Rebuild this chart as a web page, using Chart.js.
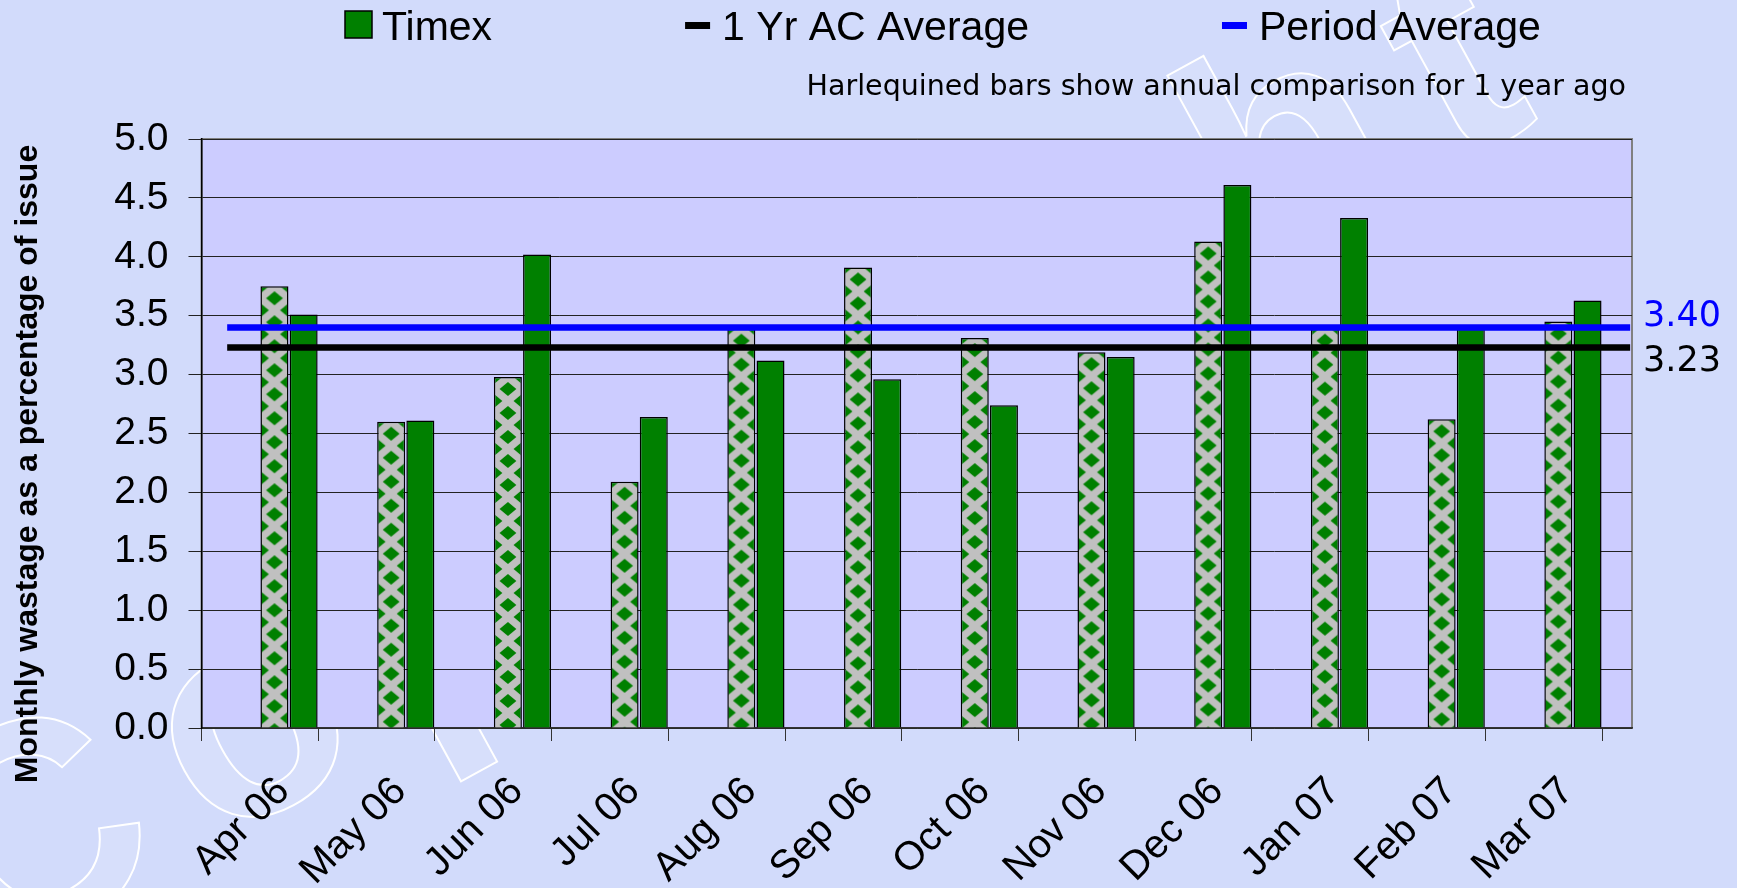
<!DOCTYPE html>
<html>
<head>
<meta charset="utf-8">
<title>Timex monthly wastage</title>
<script src="https://cdn.jsdelivr.net/npm/chart.js@4.4.1/dist/chart.umd.min.js"></script>
<style>
  html, body { margin: 0; padding: 0; background: #d2dbfb; }
  #chart { display: block; }
</style>
</head>
<body>
<canvas id="chart" width="1737" height="888"></canvas>
<script>
// Values
const months = ["Apr 06", "May 06", "Jun 06", "Jul 06", "Aug 06", "Sep 06",
                "Oct 06", "Nov 06", "Dec 06", "Jan 07", "Feb 07", "Mar 07"];
const timex = [3.51, 2.61, 4.02, 2.64, 3.12, 2.96, 2.74, 3.15, 4.61, 4.33, 3.40, 3.63];
// harlequined bars: same month one year earlier
const yearAgo = [3.75, 2.60, 2.98, 2.09, 3.39, 3.91, 3.31, 3.19, 4.13, 3.39, 2.62, 3.45];
const periodAverage = 3.40;
const yearAgoAverage = 3.23;
const yRange = [0, 5];
const yStep = 0.5;

const SANS = "'Liberation Sans', Arial, sans-serif";
const VERDANA = "'DejaVu Sans', Verdana, sans-serif";
const GREEN = "#008000";
const PAGE_BG = "#d2dbfb";

// plot runs a little past the last month, like the original sheet
const xMax = months.length + 0.256;
const lineFrom = 0.22;
const lineTo = months.length + 0.24;
const groupShare = 0.5;   // the pair of bars fills the right half of each month
const barShare = 0.96;

function harlequinTile(w, h) {
  const c = document.createElement("canvas");
  c.width = w;
  c.height = h;
  const g = c.getContext("2d");
  g.fillStyle = "#c0c0c0";
  g.fillRect(0, 0, w, h);
  g.fillStyle = GREEN;
  const rx = w * 0.3, ry = h * 0.29;
  const diamond = (cx, cy) => {
    g.beginPath();
    g.moveTo(cx - rx, cy);
    g.lineTo(cx, cy - ry);
    g.lineTo(cx + rx, cy);
    g.lineTo(cx, cy + ry);
    g.closePath();
    g.fill();
  };
  diamond(w / 2, h / 2);
  [[0, 0], [w, 0], [0, h], [w, h]].forEach(([x, y]) => diamond(x, y));
  return c;
}

// pattern lined up with each harlequined bar
function harlequinFill(c) {
  const xs = c.chart.scales.x, ys = c.chart.scales.y;
  if (!xs || !ys || c.type !== "data" || !c.raw) return "#c0c0c0";
  const unit = xs.getPixelForValue(1) - xs.getPixelForValue(0);
  const slot = unit * groupShare / 2;
  const center = xs.getPixelForValue(c.raw.x) - slot / 2;
  const w = Math.round(slot * barShare);
  const top = ys.getPixelForValue(c.raw.y);
  if (!isFinite(w) || w < 4 || !isFinite(center) || !isFinite(top)) return "#c0c0c0";
  const pattern = c.chart.ctx.createPattern(harlequinTile(w, 24), "repeat");
  pattern.setTransform(new DOMMatrix().translate(center - w / 2, top));
  return pattern;
}

const legendItems = [
  { text: "Timex", kind: "box", color: GREEN },
  { text: "1 Yr AC Average", kind: "dash", color: "#000000" },
  { text: "Period Average", kind: "dash", color: "#0000ff" },
];

// faint outlined watermark behind the plot
function drawWatermark(ctx) {
  ctx.save();
  ctx.translate(-17, 972);
  ctx.rotate(-28.7 * Math.PI / 180);
  ctx.font = "bold 300px " + SANS;
  ctx.letterSpacing = "45px";
  ctx.textBaseline = "alphabetic";
  ctx.textAlign = "left";
  ctx.fillStyle = "rgba(255,255,255,0.13)";
  ctx.fillText("Copyright", 0, 0);
  ctx.strokeStyle = "#ffffff";
  ctx.lineWidth = 2;
  ctx.strokeText("Copyright", 0, 0);
  ctx.restore();
}

const decorations = {
  id: "decorations",
  beforeDraw(chart) {
    const { ctx, chartArea: a, width, height } = chart;
    ctx.save();
    ctx.fillStyle = PAGE_BG;
    ctx.fillRect(0, 0, width, height);
    drawWatermark(ctx);
    ctx.fillStyle = "#ccccff";
    ctx.fillRect(a.left, a.top, a.right - a.left, a.bottom - a.top);
    ctx.strokeStyle = "#808080";
    ctx.lineWidth = 2;
    ctx.strokeRect(a.left, a.top, a.right - a.left, a.bottom - a.top);
    ctx.restore();
  },
  afterDraw(chart) {
    const { ctx, chartArea: a } = chart;
    const ys = chart.scales.y;
    ctx.save();

    // legend row
    ctx.font = "41px " + SANS;
    ctx.textBaseline = "alphabetic";
    ctx.textAlign = "left";
    let x = 345;
    legendItems.forEach((item) => {
      ctx.fillStyle = item.color;
      if (item.kind === "box") {
        ctx.fillRect(x, 11, 27, 27);
        ctx.strokeStyle = "#000";
        ctx.lineWidth = 1.5;
        ctx.strokeRect(x, 11, 27, 27);
      } else {
        ctx.fillRect(x, 22, 25, 7);
      }
      x += 37;
      ctx.fillStyle = "#000";
      ctx.fillText(item.text, x, 39.5);
      x += ctx.measureText(item.text).width + 193;
    });

    // note
    ctx.font = "28.5px " + VERDANA;
    ctx.textAlign = "right";
    ctx.fillText("Harlequined bars show annual comparison for 1 year ago", a.right - 6, 95);

    // values of the two average lines
    ctx.font = "35px " + VERDANA;
    ctx.textAlign = "left";
    ctx.fillStyle = "#0000ff";
    ctx.fillText(periodAverage.toFixed(2), a.right + 11, ys.getPixelForValue(periodAverage) - 1);
    ctx.fillStyle = "#000";
    ctx.fillText(yearAgoAverage.toFixed(2), a.right + 11, ys.getPixelForValue(yearAgoAverage) + 23);

    // y axis title
    ctx.font = "bold 32px " + SANS;
    ctx.textAlign = "center";
    ctx.translate(37, 464);
    ctx.rotate(-Math.PI / 2);
    ctx.fillText("Monthly wastage as a percentage of issue", 0, 0);
    ctx.restore();
  },
};

new Chart(document.getElementById("chart"), {
  data: {
    datasets: [
      {
        type: "line",
        label: "Period Average",
        data: [{ x: lineFrom, y: periodAverage }, { x: lineTo, y: periodAverage }],
        borderColor: "#0000ff",
        borderWidth: 6.5,
        pointRadius: 0,
        order: 0,
      },
      {
        type: "line",
        label: "1 Yr AC Average",
        data: [{ x: lineFrom, y: yearAgoAverage }, { x: lineTo, y: yearAgoAverage }],
        borderColor: "#000000",
        borderWidth: 6.5,
        pointRadius: 0,
        order: 0,
      },
      {
        type: "bar",
        label: "1 year ago",
        data: months.map((m, i) => ({ x: i + 0.75, y: yearAgo[i] })),
        backgroundColor: harlequinFill,
        borderColor: "#000",
        borderWidth: 1.5,
        categoryPercentage: groupShare,
        barPercentage: barShare,
        order: 1,
      },
      {
        type: "bar",
        label: "Timex",
        data: months.map((m, i) => ({ x: i + 0.75, y: timex[i] })),
        backgroundColor: GREEN,
        borderColor: "#000",
        borderWidth: 1.5,
        categoryPercentage: groupShare,
        barPercentage: barShare,
        order: 1,
      },
    ],
  },
  options: {
    responsive: false,
    animation: false,
    devicePixelRatio: 1,
    layout: { padding: { left: 0, top: 139, right: 105, bottom: 0 } },
    plugins: {
      legend: { display: false },
      tooltip: { enabled: false },
    },
    scales: {
      x: {
        type: "linear",
        min: 0,
        max: xMax,
        offset: false,
        afterFit: (scale) => { scale.height = 160; },
        grid: {
          offset: false,
          drawOnChartArea: false,
          tickLength: 13,
          color: "#333",
        },
        border: { color: "#333", width: 1.5 },
        ticks: {
          stepSize: 1,
          includeBounds: false,
          autoSkip: false,
          minRotation: 45,
          maxRotation: 45,
          padding: 27,
          labelOffset: 82,   // month name sits under the middle of its month
          color: "#000",
          font: { family: SANS, size: 40 },
          callback: (v) => months[v] || "",
        },
      },
      y: {
        min: yRange[0],
        max: yRange[1],
        afterFit: (scale) => { scale.width = 201.5; },
        grid: { color: "#222", lineWidth: 1, tickLength: 13 },
        border: { color: "#000", width: 1.5 },
        ticks: {
          stepSize: yStep,
          padding: 20,
          color: "#000",
          font: { family: SANS, size: 39 },
          callback: (v) => v.toFixed(1),
        },
      },
    },
  },
  plugins: [decorations],
});
</script>
</body>
</html>
